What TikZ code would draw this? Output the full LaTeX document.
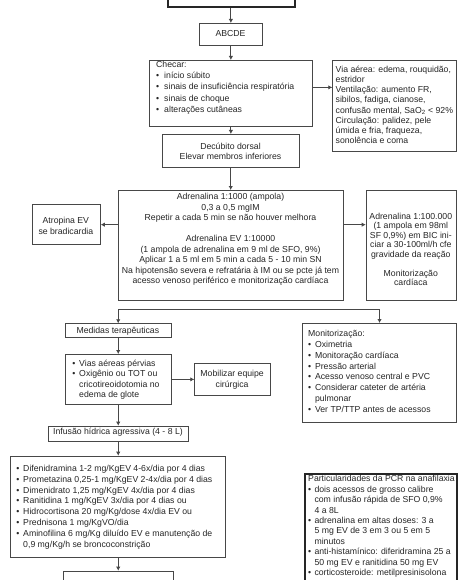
\documentclass[tikz,border=0pt]{standalone}
\usepackage{fontspec}
\setmainfont{Liberation Sans}
\usetikzlibrary{arrows.meta,calc}
\newcommand\fsz[1]{\fontsize{8.7}{#1}\selectfont}
\newcommand\bl{\textbullet}
\tikzset{
  bx/.style={draw=black!72, line width=0.75pt, fill=white, inner sep=0pt, anchor=north west},
  thick bx/.style={bx, line width=2pt, draw=black!85},
  tx/.style={inner sep=0pt, text=black!85, anchor=base west},
  tc/.style={inner sep=0pt, text=black!85, anchor=base},
  arr/.style={draw=black!72, line width=0.85pt, -{Latex[length=4pt,width=4.4pt]}},
  ln/.style={draw=black!72, line width=0.85pt},
}
\begin{document}
\begin{tikzpicture}[x=1pt,y=-1pt,font=\fsz{10.7}]
\useasboundingbox (0,0) rectangle (474,580);
\fill[white] (0,0) rectangle (474,580);
% boxes
\node[thick bx, minimum width=126.7pt, minimum height=26pt] (top) at (167.3,-20) {};
\node[bx, minimum width=63pt, minimum height=22pt] (abcde) at (199,23) {};
\node[bx, minimum width=163pt, minimum height=65.7pt] (checar) at (149,60) {};
\node[bx, minimum width=123.7pt, minimum height=90.7pt] (via) at (332.3,60) {};
\node[bx, minimum width=137pt, minimum height=33.3pt] (decub) at (162,134) {};
\node[bx, minimum width=225.3pt, minimum height=109.5pt] (adr) at (117.7,190) {};
\node[bx, minimum width=68.3pt, minimum height=40pt] (atro) at (31.7,204.3) {};
\node[bx, minimum width=90.3pt, minimum height=109.5pt] (adr2) at (365.7,190) {};
\node[bx, minimum width=105.7pt, minimum height=14pt] (med) at (65,323.3) {};
\node[bx, minimum width=105.7pt, minimum height=50pt] (vias) at (65,354) {};
\node[bx, minimum width=75.7pt, minimum height=31.7pt] (mob) at (194.3,363.3) {};
\node[bx, minimum width=153.7pt, minimum height=98.7pt] (monit) at (302.3,323) {};
\node[bx, minimum width=139.4pt, minimum height=15.3pt] (inf) at (48.3,425.7) {};
\node[bx, minimum width=215pt, minimum height=101pt] (meds) at (10,455.7) {};
\node[thick bx, minimum width=152pt, minimum height=146.7pt] (pcr) at (304,473.3) {};
\node[bx, minimum width=109.4pt, minimum height=50pt] (bot) at (63.3,570.7) {};
% texts
\node[tc] (abcde-t) at (230.5,36.3) {ABCDE};
\node[tx, font={\fsz{11.1}}] (checar-t) at (156,67.8) {\begin{tabular}[t]{@{}l@{\hspace{5pt}}l@{}}\multicolumn{2}{@{}l@{}}{Checar:}\\ \bl & início súbito\\ \bl & sinais de insuficiência respiratória\\ \bl & sinais de choque\\ \bl & alterações cutâneas\end{tabular}};
\node[tx, font={\fsz{10.2}}] (via-t) at (335.5,72.3) {\begin{tabular}[t]{@{}l@{}}Via aérea: edema, rouquidão,\\ estridor\\ Ventilação: aumento FR,\\ sibilos, fadiga, cianose,\\ confusão mental, SaO\textsubscript{2} < 92\%\\ Circulação: palidez, pele\\ úmida e fria, fraqueza,\\ sonolência e coma\end{tabular}};
\node[tc, font={\fsz{10.4}}] (decub-t) at (230.5,149.6) {\begin{tabular}[t]{@{}c@{}}Decúbito dorsal\\ Elevar membros inferiores\end{tabular}};
\node[tc, font={\fsz{10.5}}] (adr-t) at (230.5,199.6) {\begin{tabular}[t]{@{}c@{}}Adrenalina 1:1000 (ampola)\\ 0,3 a 0,5 mgIM\\ Repetir a cada 5 min se não houver melhora\\ \\ Adrenalina EV 1:10000\\ (1 ampola de adrenalina em 9 ml de SFO, 9\%)\\ Aplicar 1 a 5 ml em 5 min a cada 5 - 10 min SN\\ Na hipotensão severa e refratária à IM ou se pcte já tem\\ acesso venoso periférico e monitorização cardíaca\end{tabular}};
\node[tc, font={\fsz{10.4}}] (atro-t) at (65.85,223.8) {\begin{tabular}[t]{@{}c@{}}Atropina EV\\ se bradicardia\end{tabular}};
\node[tc, font={\fsz{9.5}}] (adr2-t) at (410.8,219.3) {\begin{tabular}[t]{@{}c@{}}Adrenalina 1:100.000\\ (1 ampola em 98ml\\ SF 0,9\%) em BIC ini-\\ ciar a 30-100ml/h cfe\\ gravidade da reação\\ \\ Monitorização\\ cardíaca\end{tabular}};
\node[tc] (med-t) at (117.85,333.8) {Medidas terapêuticas};
\node[tx, font={\fsz{10.55}}] (vias-t) at (72.2,366.3) {\begin{tabular}[t]{@{}l@{\hspace{3.8pt}}l@{}}\bl & Vias aéreas pérvias\\ \bl & Oxigênio ou TOT ou\\ & cricotireoidotomia no\\ & edema de glote\end{tabular}};
\node[tc, font={\fsz{10.7}}] (mob-t) at (232.15,376.6) {\begin{tabular}[t]{@{}c@{}}Mobilizar equipe\\ cirúrgica\end{tabular}};
\node[tx, font={\fsz{10.8}}] (monit-t) at (308,336.6) {\begin{tabular}[t]{@{}l@{\hspace{3.8pt}}l@{}}\multicolumn{2}{@{}l@{}}{Monitorização:}\\ \bl & Oximetria\\ \bl & Monitoração cardíaca\\ \bl & Pressão arterial\\ \bl & Acesso venoso central e PVC\\ \bl & Considerar cateter de artéria\\ & pulmonar\\ \bl & Ver TP/TTP antes de acessos\end{tabular}};
\node[tc] (inf-t) at (118,434.8) {Infusão hídrica agressiva (4 - 8 L)};
\node[tx, font={\fsz{10.85}}] (meds-t) at (16.2,471.3) {\begin{tabular}[t]{@{}l@{\hspace{3.8pt}}l@{}}\bl & Difenidramina 1-2 mg/KgEV 4-6x/dia por 4 dias\\ \bl & Prometazina 0,25-1 mg/KgEV 2-4x/dia por 4 dias\\ \bl & Dimenidrato 1,25 mg/KgEV 4x/dia por 4 dias\\ \bl & Ranitidina 1 mg/KgEV 3x/dia por 4 dias ou\\ \bl & Hidrocortisona 20 mg/Kg/dose 4x/dia EV ou\\ \bl & Prednisona 1 mg/KgVO/dia\\ \bl & Aminofilina 6 mg/Kg diluído EV e manutenção de\\ & 0,9 mg/Kg/h se broncoconstrição\end{tabular}};
\node[tx, font={\fsz{10.4}}] (pcr-t) at (308,481.8) {\begin{tabular}[t]{@{}l@{\hspace{3.3pt}}l@{}}\multicolumn{2}{@{}l@{}}{Particularidades da PCR na anafilaxia}\\ \bl & dois acessos de grosso calibre\\ & com infusão rápida de SFO 0,9\%\\ & 4 a 8L\\ \bl & adrenalina em altas doses: 3 a\\ & 5 mg EV de 3 em 3 ou 5 em 5\\ & minutos\\ \bl & anti-histamínico: diferidramina 25 a\\ & 50 mg EV e ranitidina 50 mg EV\\ \bl & corticosteroide: metilpresinisolona\end{tabular}};
% connectors
\draw[arr] (abcde.north |- top.south) -- (abcde.north);
\draw[arr] (abcde.south) -- (checar.north);
\coordinate (ca) at ($(checar.east)+(0,-5.85)$);
\draw[arr] (ca) -- (ca -| via.west);
\draw[arr] (decub.south |- checar.south) -- (decub.north);
\draw[arr] (adr.north |- decub.south) -- (adr.north);
\coordinate (aL) at ($(adr.west)+(0,-20.45)$);
\coordinate (aR) at ($(adr.east)+(0,-20.45)$);
\draw[arr] (aL) -- (aL -| atro.east);
\draw[arr] (aR) -- (aR -| adr2.west);
\coordinate (bl) at ($(med.north)+(0,-13.8)$);
\coordinate (br) at (bl -| monit.north);
\draw[arr] (bl) -- (med.north);
\draw[arr] (bl) -- (br) -- (monit.north);
\draw[arr] (med.south) -- (vias.north);
\draw[arr] (vias.east) -- (vias.east -| mob.west);
\draw[arr] (vias.south) -- (vias.south |- inf.north);
\draw[arr] (vias.south |- inf.south) -- (vias.south |- meds.north);
\draw[arr] (vias.south |- meds.south) -- (vias.south |- bot.north);
\end{tikzpicture}
\end{document}
